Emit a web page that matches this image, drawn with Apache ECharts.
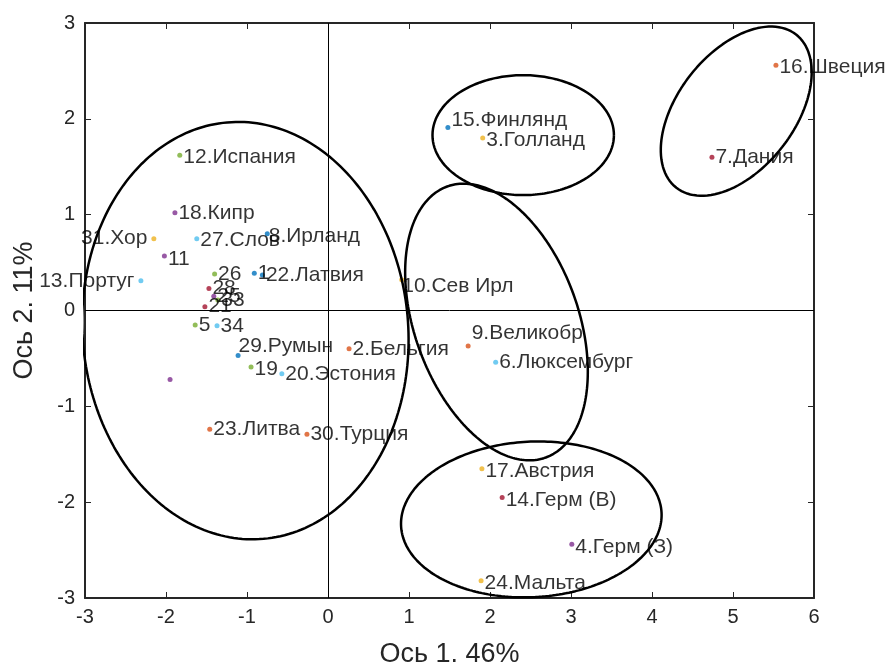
<!DOCTYPE html>
<html><head><meta charset="utf-8">
<script src="https://cdn.jsdelivr.net/npm/echarts@6/dist/echarts.min.js"></script>
<style>html,body{margin:0;padding:0;background:#fff}#c{width:886px;height:666px}</style>
</head><body><div id="c"></div>
<script>
// ---- data ----
const pointNums = [1,2,3,4,5,6,7,8,9,10,11,12,13,14,15,16,17,18,19,20,21,22,23,24,25,26,27,28,29,30,31,32,33,34];
const pointLabels = ["1","2.Бельгия","3.Голланд","4.Герм (З)","5","6.Люксембург","7.Дания","8.Ирланд","9.Великобр","10.Сев Ирл","11","12.Испания","13.Португ","14.Герм (В)","15.Финлянд","16.Швеция","17.Австрия","18.Кипр","19","20.Эстония","21","22.Латвия","23.Литва","24.Мальта","25","26","27.Слов","28","29.Румын","30.Турция","31.Хор","","33","34"];
const axis1 = [-0.91,0.26,1.91,3.01,-1.64,2.07,4.74,-0.75,1.73,0.91,-2.02,-1.83,-2.31,2.15,1.48,5.53,1.90,-1.89,-0.95,-0.57,-1.52,-0.81,-1.46,1.89,-1.41,-1.40,-1.62,-1.47,-1.11,-0.26,-2.15,-1.95,-1.36,-1.37];
const axis2 = [0.39,-0.40,1.80,-2.44,-0.15,-0.54,1.60,0.80,-0.37,0.32,0.57,1.62,0.31,-1.95,1.91,2.56,-1.65,1.02,-0.59,-0.66,0.04,0.37,-1.24,-2.82,0.15,0.38,0.75,0.23,-0.47,-1.29,0.75,-0.72,0.11,-0.16];
// ellipse parameters: centre (axis units), semi-axes (axis-1 units), rotation (deg, screen)
const ellCx = [-1.02, 2.08, 2.41, 5.04, 2.51];
const ellCy = [-0.21, -0.12, 1.83, 2.08, -2.18];
const ellA  = [2.01, 1.01, 1.12, 1.20, 1.61];
const ellB  = [2.58, 1.78, 0.74, 0.72, 0.96];
const ellRot= [5, 20, 0, 52, 3];
const xTicks = [-3,-2,-1,0,1,2,3,4,5,6];
const yTicks = [-3,-2,-1,0,1,2,3];

// ---- style ----
const palette = ['#0072BD','#D95319','#EDB120','#7E2F8E','#77AC30','#4DBEEE','#A2142F'];
const leftLabels = {13:true, 31:true};
const labelOff = {15:[0,-7], 29:[-3,-9], 9:[0,-13], 10:[-3,6], 11:[0,3], 3:[0,2], 27:[0,2], 14:[0,3], 4:[0,3], 19:[0,2], 24:[0,2], 17:[0,3], 12:[0,2], 16:[0,2], 8:[-2,2]};
const pxPerX = 81, pxPerY = 95.83;
const K = pxPerY / pxPerX;

const pts = pointNums.map((n,i)=>({
  value:[axis1[i], axis2[i]],
  itemStyle:{color: palette[(n-1)%7]},
  label:{
    show: pointLabels[i] !== '',
    formatter: pointLabels[i],
    position: leftLabels[n] ? 'left' : 'right',
    distance: leftLabels[n] ? 4 : 1,
    offset: labelOff[n] || [0,0]
  }
}));

function ellipse(k){
  const out=[]; const th = ellRot[k]*Math.PI/180;
  for(let j=0;j<=240;j++){
    const t = j/240*2*Math.PI;
    const a = ellA[k]*Math.cos(t), b = ellB[k]*Math.sin(t);
    const dx = a*Math.cos(th) - b*Math.sin(th);
    const dy = a*Math.sin(th) + b*Math.cos(th);
    out.push([ellCx[k]+dx, ellCy[k]+dy/K]);
  }
  return out;
}

const axisCol = '#262626';
const fontFam = '"Liberation Sans", Arial, sans-serif';
const commonX = {type:'value', min:-3, max:6, interval:1, splitLine:{show:false},
  axisLine:{show:true, onZero:false, lineStyle:{color:axisCol, width:2}},
  axisTick:{show:true, inside:true, length:6, lineStyle:{color:axisCol, width:1}}};
const commonY = {type:'value', min:-3, max:3, interval:1, splitLine:{show:false},
  axisLine:{show:true, onZero:false, lineStyle:{color:axisCol, width:2}},
  axisTick:{show:true, inside:true, length:6, lineStyle:{color:axisCol, width:1}}};

const series = [{
  type:'scatter', xAxisIndex:0, yAxisIndex:0, symbolSize:5, z:2,
  data: pts,
  label:{color:'#000', fontSize:21, fontFamily:fontFam},
  markLine:{silent:true, symbol:'none', label:{show:false}, lineStyle:{color:'#000', width:1, type:'solid'},
    data:[{xAxis:0},{yAxis:0}], z:1}
}];
for(let k=0;k<ellCx.length;k++){
  series.push({type:'line', xAxisIndex:0, yAxisIndex:0, data: ellipse(k), showSymbol:false, symbol:'none',
    smooth:false, clip:true, z:5, silent:true, lineStyle:{color:'#000', width:2.5}});
}

const chart = echarts.init(document.getElementById('c'), null, {renderer:'canvas'});
chart.setOption({
  animation:false,
  backgroundColor:'#fff',
  grid:{left:85, right:72, top:23, bottom:68, containLabel:false, outerBoundsMode:'none'},
  xAxis:[
    Object.assign({}, commonX, {position:'bottom',
      axisLabel:{color:axisCol, fontSize:20, fontFamily:fontFam, margin:9},
      name:'Ось 1. 46%', nameLocation:'middle', nameGap:43,
      nameTextStyle:{color:axisCol, fontSize:27, fontFamily:fontFam}}),
    Object.assign({}, commonX, {position:'top', axisLabel:{show:false}})
  ],
  yAxis:[
    Object.assign({}, commonY, {position:'left',
      axisLabel:{color:axisCol, fontSize:20, fontFamily:fontFam, margin:10},
      name:'Ось 2. 11%', nameLocation:'middle', nameGap:47,
      nameTextStyle:{color:axisCol, fontSize:27, fontFamily:fontFam}}),
    Object.assign({}, commonY, {position:'right', axisLabel:{show:false}})
  ],
  series: series
});
</script></body></html>
